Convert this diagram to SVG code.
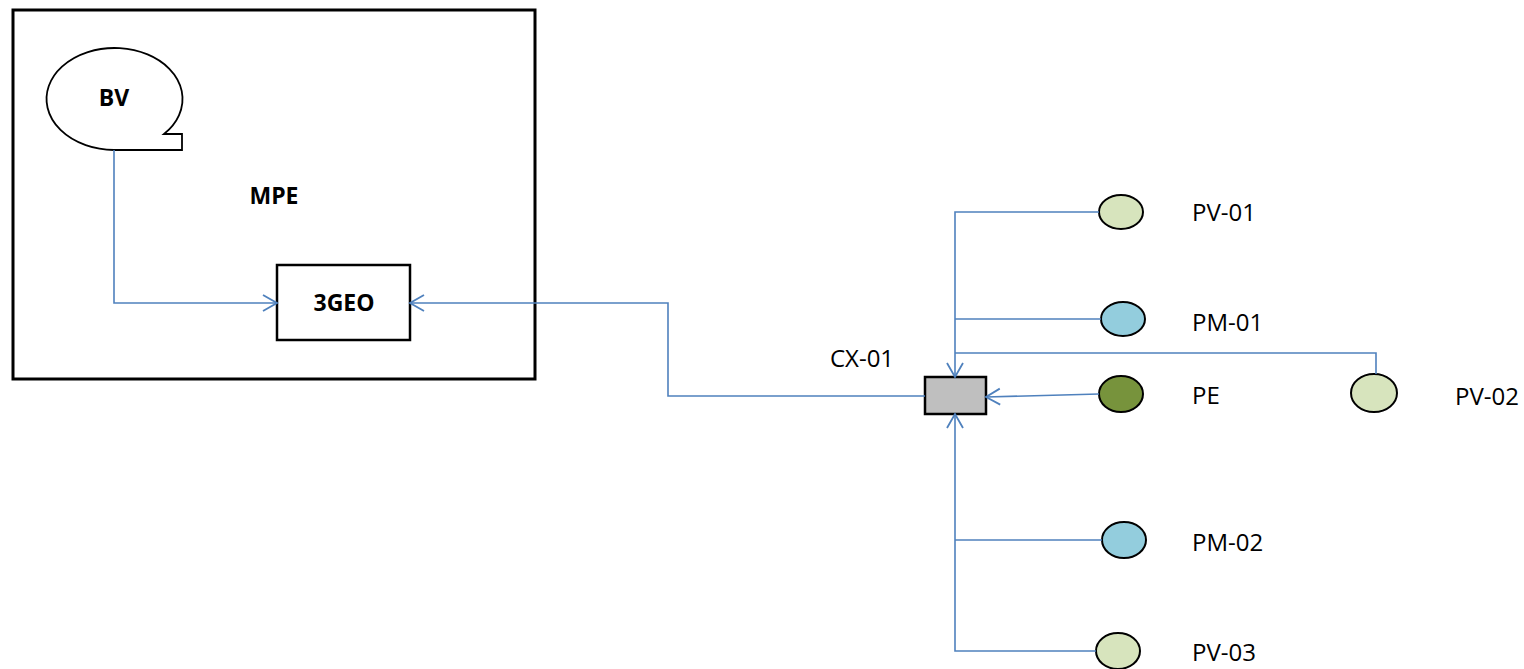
<svg xmlns="http://www.w3.org/2000/svg" width="1524" height="669" viewBox="0 0 1524 669">
<style>
.conn{fill:none;stroke:#4F81BD;stroke-width:1.6}
.lbl{font-family:"Open Sans","Liberation Sans",sans-serif;font-size:24px;fill:#000}
.bold{font-family:"Open Sans","Liberation Sans",sans-serif;font-size:23px;font-weight:bold;fill:#000}
.node{stroke:#000;stroke-width:2}
</style>
<defs>
<marker id="arr" markerUnits="userSpaceOnUse" markerWidth="20" markerHeight="20" viewBox="0 0 20 20" refX="16" refY="10" orient="auto">
<path d="M2,2 L16,10 L2,18" fill="none" stroke="#4F81BD" stroke-width="1.8"/>
</marker>
</defs>
<rect width="1524" height="669" fill="#fff"/>
<g id="MPE">
<rect x="13" y="10" width="522" height="369" fill="none" stroke="#000" stroke-width="3"/>
<text class="bold" x="274" y="204" text-anchor="middle">MPE</text>
</g>
<g id="BV">
<path d="M114,150 A68,51 0 1 1 164,134 L182,134 L182,150 Z" fill="#fff" stroke="#000" stroke-width="1.8"/>
<text class="bold" x="114" y="106" text-anchor="middle">BV</text>
</g>
<g id="3GEO">
<rect x="277" y="265" width="133" height="75" fill="#fff" stroke="#000" stroke-width="2.5"/>
<text class="bold" x="344" y="311" text-anchor="middle">3GEO</text>
</g>
<g id="CX-01">
<rect x="925" y="377" width="61" height="37" fill="#BFBFBF" stroke="#000" stroke-width="2.5"/>
<text class="lbl" x="862" y="367" text-anchor="middle">CX-01</text>
</g>
<g id="PV-01">
<ellipse cx="1121" cy="212" rx="22" ry="17" fill="#D7E4BD" class="node"/>
<text class="lbl" x="1192" y="221">PV-01</text>
</g>
<g id="PM-01">
<ellipse cx="1123" cy="319" rx="22" ry="17" fill="#93CDDD" class="node"/>
<text class="lbl" x="1192" y="331">PM-01</text>
</g>
<g id="PE">
<ellipse cx="1121" cy="394" rx="22" ry="18" fill="#77933C" class="node"/>
<text class="lbl" x="1192" y="404">PE</text>
</g>
<g id="PV-02">
<ellipse cx="1374" cy="393" rx="23" ry="19" fill="#D7E4BD" class="node"/>
<text class="lbl" x="1455" y="405">PV-02</text>
</g>
<g id="PM-02">
<ellipse cx="1124" cy="540" rx="22" ry="18" fill="#93CDDD" class="node"/>
<text class="lbl" x="1192" y="551">PM-02</text>
</g>
<g id="PV-03">
<ellipse cx="1118" cy="651" rx="22" ry="18" fill="#D7E4BD" class="node"/>
<text class="lbl" x="1192" y="661">PV-03</text>
</g>
<g id="connectors">
<path class="conn" d="M114,150 V303 H277" marker-end="url(#arr)"/>
<path class="conn" d="M925,396 H668 V303 H410" marker-end="url(#arr)"/>
<path class="conn" d="M1099,212 H955 V377" marker-end="url(#arr)"/>
<path class="conn" d="M1101,319 H955"/>
<path class="conn" d="M1376,374 V353 H955"/>
<path class="conn" d="M1099,394 L986,397" marker-end="url(#arr)"/>
<path class="conn" d="M1096,651 H955 V414" marker-end="url(#arr)"/>
<path class="conn" d="M1102,540 H955"/>
</g>
</svg>
